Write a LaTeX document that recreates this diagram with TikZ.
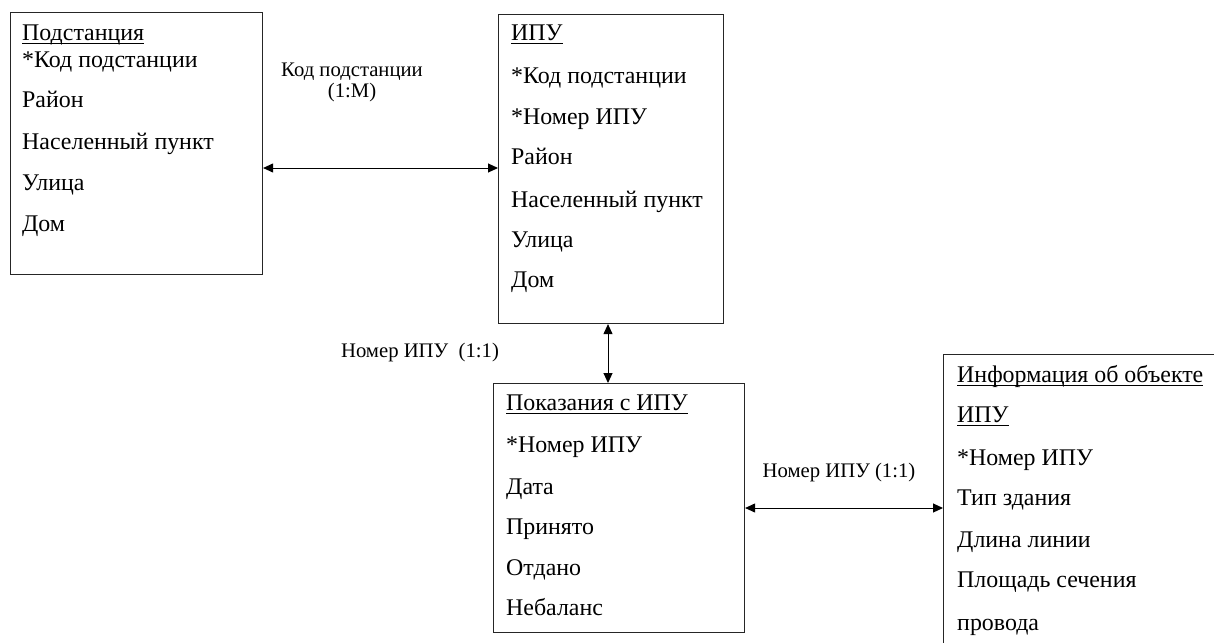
\documentclass[tikz,border=0pt]{standalone}
\usepackage{fontspec}
\setmainfont{Liberation Serif}
\newcommand{\myul}[1]{\setbox0\hbox{#1}\rlap{\vrule height -2.2pt depth 3.3pt width \wd0}\box0}
\usetikzlibrary{arrows.meta}
\tikzset{
  box/.style={draw=black!85, line width=1.1pt, anchor=north west, inner sep=0pt},
  fld/.style={anchor=base west, inner sep=0pt, font=\fontsize{23.9}{28}\selectfont},
  lbl/.style={inner sep=0pt, font=\fontsize{20.7}{21}\selectfont, align=center},
  arr/.style={draw=black, line width=1pt, {Triangle[length=10pt,width=9pt]}-{Triangle[length=10pt,width=9pt]}}
}
\begin{document}
\begin{tikzpicture}[x=1pt,y=-1pt]
\clip (0,0) rectangle (1214,642);
\fill[white] (0,0) rectangle (1214,642);
% boxes
\node[box, minimum width=252pt, minimum height=262pt] (b1) at (10,12) {};
\node[box, minimum width=225pt, minimum height=309pt] (b2) at (498,14) {};
\node[box, minimum width=251pt, minimum height=249pt] (b3) at (493,383) {};
\node[box, minimum width=320pt, minimum height=320pt] (b4) at (943,354) {};
% box 1 fields
\node[fld] (t11) at (22,40.5) {\myul{Подстанция}};
\node[fld] (t12) at (22,67.5) {*Код подстанции};
\node[fld] (t13) at (22,107.5) {Район};
\node[fld] (t14) at (22,149.5) {Населенный пункт};
\node[fld] (t15) at (22,190.5) {Улица};
\node[fld] (t16) at (22,231.5) {Дом};
% box 2 fields
\node[fld] (t21) at (511,40.5) {\myul{ИПУ}};
\node[fld] (t22) at (511,83.5) {*Код подстанции};
\node[fld] (t23) at (511,124.5) {*Номер ИПУ};
\node[fld] (t24) at (511,164.5) {Район};
\node[fld] (t25) at (511,207.5) {Населенный пункт};
\node[fld] (t26) at (511,247.5) {Улица};
\node[fld] (t27) at (511,287.5) {Дом};
% box 3 fields
\node[fld] (t31) at (506,410.5) {\myul{Показания с ИПУ}};
\node[fld] (t32) at (506,452.5) {*Номер ИПУ};
\node[fld] (t33) at (506,494.5) {Дата};
\node[fld] (t34) at (506,534.5) {Принято};
\node[fld] (t35) at (506,575.5) {Отдано};
\node[fld] (t36) at (506,615.5) {Небаланс};
% box 4 fields
\node[fld] (t41) at (957,382.5) {\myul{Информация об объекте}};
\node[fld] (t42) at (957,422.5) {\myul{ИПУ}};
\node[fld] (t43) at (957,465.5) {*Номер ИПУ};
\node[fld] (t44) at (957,505.5) {Тип здания};
\node[fld] (t45) at (957,547.5) {Длина линии};
\node[fld] (t46) at (957,587.5) {Площадь сечения};
\node[fld] (t47) at (957,630.5) {провода};
% connectors
\coordinate (c1) at (380,168);
\coordinate (c2) at (608,350);
\coordinate (c3) at (840,508);
\draw[arr] (b1.east |- c1) -- (b2.west |- c1);
\draw[arr] (b2.south -| c2) -- (b3.north -| c2);
\draw[arr] (b3.east |- c3) -- (b4.west |- c3);
% labels
\node[lbl] (l1) at (352,82.5) {Код подстанции\\(1:M)};
\node[lbl] (l2) at (420,353) {Номер ИПУ\ \ (1:1)};
\node[lbl] (l3) at (839,473) {Номер ИПУ (1:1)};
\end{tikzpicture}
\end{document}
